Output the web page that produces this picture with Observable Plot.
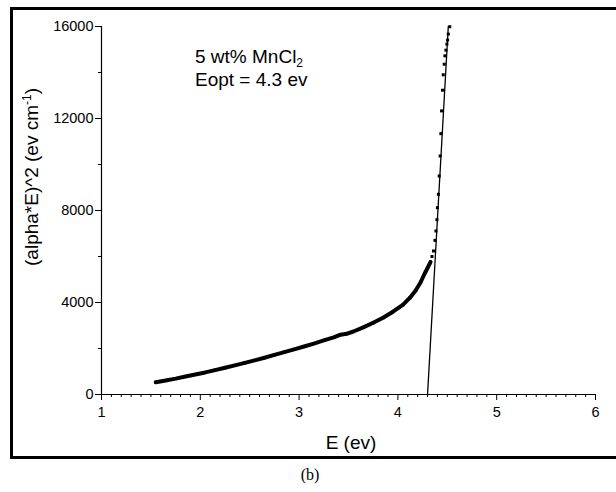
<!DOCTYPE html>
<html>
<head>
<meta charset="utf-8">
<script src="https://cdn.jsdelivr.net/npm/d3@7"></script>
<script src="https://cdn.jsdelivr.net/npm/@observablehq/plot@0.6"></script>
<style>
  html, body { margin: 0; padding: 0; background: #fff; overflow: hidden; }
  #wrap { position: relative; width: 616px; height: 492px; overflow: hidden; }
  #wrap svg { position: absolute; left: 0; top: 0; }
  #border { position: absolute; left: 10px; top: 7px; width: 700px; height: 446px; border: 3px solid #000; box-sizing: content-box; }
  #caption { position: absolute; left: 0; width: 620px; top: 466px; text-align: center; font-family: "Liberation Serif", "Times New Roman", serif; font-size: 16px; color: #000; }
</style>
</head>
<body>
<div id="wrap">
  <div id="border"></div>
  <div id="caption">(b)</div>
</div>
<script>
// photon energy (eV)
const energy = [1.55, 1.65, 1.75, 1.85, 1.95, 2.05, 2.15, 2.25, 2.35, 2.45, 2.55, 2.65, 2.75, 2.85, 2.95,
  3.05, 3.15, 3.25, 3.35, 3.42, 3.48, 3.55, 3.65, 3.75, 3.85, 3.95, 4.05, 4.12, 4.18, 4.23, 4.27, 4.30,
  4.33, 4.345, 4.36, 4.375, 4.385, 4.395, 4.40, 4.41, 4.418, 4.428, 4.435, 4.442, 4.452, 4.459, 4.469,
  4.476, 4.486, 4.496, 4.503, 4.51, 4.525];
// (alpha*E)^2 values
const alphaE2 = [530, 610, 690, 780, 870, 960, 1060, 1160, 1265, 1375, 1485, 1600, 1720, 1840, 1960,
  2085, 2215, 2350, 2480, 2600, 2640, 2740, 2920, 3120, 3340, 3600, 3900, 4200, 4520, 4880, 5250, 5500,
  5760, 6000, 6240, 6700, 7110, 7600, 8120, 8705, 9500, 10370, 11340, 12330, 13230, 13900, 14360,
  14725, 14970, 15235, 15410, 15670, 15990];
// linear fit extrapolated to the energy axis
const fitEnergy = [4.3, 4.51];
const fitValue = [0, 16000];

const xMajor = [1, 2, 3, 4, 5, 6];
const xMinor = d3.range(10, 61).map(d => d / 10).filter(d => !Number.isInteger(d));
const yMajor = [0, 4000, 8000, 12000, 16000];
const yMinor = [2000, 6000, 10000, 14000];

const annotation1 = "5 wt% MnCl";
const annotation1Sub = "2";
const annotation2 = "Eopt = 4.3 ev";
const xLabel = "E (ev)";
const yLabel = "(alpha*E)^2 (ev cm";
const yLabelSup = "-1";

const data = energy.map((e, i) => ({E: e, A: alphaE2[i]}));
const dense = data.filter(d => d.E <= 4.33);
const fit = fitEnergy.map((e, i) => ({E: e, A: fitValue[i]}));

const font = "'Liberation Sans', Arial, sans-serif";

const chart = Plot.plot({
  width: 616,
  height: 492,
  marginLeft: 101,
  marginRight: 21,
  marginTop: 26,
  marginBottom: 98,
  x: {domain: [1, 6]},
  y: {domain: [0, 16000]},
  style: {fontFamily: font, fontSize: "14.5px", background: "transparent", color: "#000"},
  marks: [
    Plot.axisX({ticks: xMinor, tickSize: 3, tickFormat: () => "", label: null, strokeWidth: 1}),
    Plot.axisX({ticks: xMajor, tickSize: 6, tickPadding: 6, tickFormat: d => String(d), label: null, fontSize: 14.5, strokeWidth: 1}),
    Plot.axisY({ticks: yMinor, tickSize: 3, tickFormat: () => "", label: null, strokeWidth: 1}),
    Plot.axisY({ticks: yMajor, tickSize: 6, tickPadding: 2, tickFormat: d => String(d), label: null, fontSize: 14.5, strokeWidth: 1}),
    Plot.ruleY([0], {x1: 1, x2: 6, stroke: "#000", strokeWidth: 1.2}),
    Plot.ruleX([1], {y1: 0, y2: 16000, stroke: "#000", strokeWidth: 1.2}),
    Plot.line(dense, {x: "E", y: "A", stroke: "#000", strokeWidth: 4}),
    Plot.dot(data, {x: "E", y: "A", symbol: "square", r: 1.7, fill: "#000", stroke: null}),
    Plot.line(fit, {x: "E", y: "A", stroke: "#000", strokeWidth: 1.3})
  ]
});

document.getElementById("wrap").appendChild(chart);

const svg = d3.select(chart);

svg.selectAll("text")
  .style("font-family", font)
  .style("fill", "#000");

const t1 = svg.append("text").attr("x", 195).attr("y", 63)
  .attr("text-anchor", "start")
  .attr("font-family", font).attr("font-size", 19).attr("fill", "#000");
t1.append("tspan").text(annotation1);
t1.append("tspan").attr("font-size", 12).attr("dy", 4).text(annotation1Sub);

svg.append("text").attr("x", 195).attr("y", 86)
  .attr("text-anchor", "start")
  .attr("font-family", font).attr("font-size", 19).attr("fill", "#000")
  .text(annotation2);

svg.append("text").attr("x", 351).attr("y", 449)
  .attr("text-anchor", "middle")
  .attr("font-family", font).attr("font-size", 19).attr("fill", "#000")
  .text(xLabel);

const yl = svg.append("text")
  .attr("transform", "translate(38,177) rotate(-90)")
  .attr("text-anchor", "middle")
  .attr("font-family", font).attr("font-size", 19).attr("fill", "#000");
yl.append("tspan").text(yLabel);
yl.append("tspan").attr("font-size", 12).attr("dy", -7).text(yLabelSup);
yl.append("tspan").attr("dy", 7).text(")");
</script>
</body>
</html>
